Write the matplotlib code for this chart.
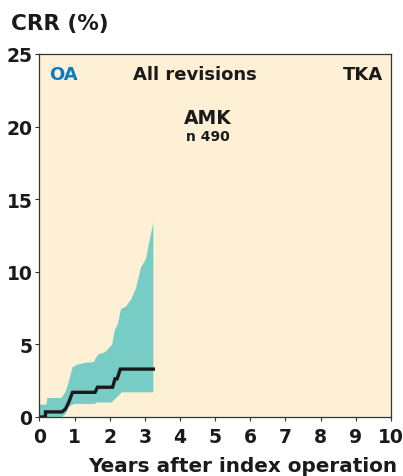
import numpy as np
import matplotlib
matplotlib.use("Agg")
import matplotlib.pyplot as plt

# Cumulative revision rate (%)
years_line = [0, 0.17, 0.17, 0.64, 0.74, 0.83, 0.94, 1.58, 1.65, 2.08, 2.15, 2.21, 2.30, 3.24]
crr_line = [0, 0, 0.35, 0.35, 0.55, 1.0, 1.7, 1.7, 2.05, 2.05, 2.63, 2.63, 3.3, 3.3]

years_upper = [0, 0.20, 0.22, 0.62, 0.68, 0.74, 0.83, 0.94, 1.07, 1.30, 1.55, 1.60, 1.67,
               1.87, 1.96, 2.07, 2.14, 2.23, 2.32, 2.46, 2.61, 2.75, 2.89, 3.03, 3.12, 3.24]
crr_upper = [0.85, 0.85, 1.31, 1.31, 1.5, 1.73, 2.4, 3.43, 3.6, 3.73, 3.78, 4.05, 4.3,
             4.47, 4.7, 5.0, 5.95, 6.4, 7.44, 7.6, 8.1, 8.9, 10.3, 10.9, 12.0, 13.4]

years_lower = [0, 0.64, 0.74, 0.83, 0.92, 1.02, 1.58, 1.63, 2.05, 2.15, 2.25, 2.34, 3.24]
crr_lower = [0, 0, 0.2, 0.67, 0.83, 0.9, 0.9, 1.0, 1.0, 1.24, 1.47, 1.7, 1.7]

x_ticks = list(range(0, 11))
y_ticks = [0, 5, 10, 15, 20, 25]

plt.rcParams["font.family"] = "DejaVu Sans"
plt.rcParams["font.weight"] = "bold"

fig = plt.figure(figsize=(4.03, 4.77), dpi=100)
ax = fig.add_axes([0.098, 0.1237, 0.872, 0.761])

ax.set_facecolor("#FEF0D5")

# confidence band
band_x = np.r_[years_upper, years_lower[::-1]]
band_y = np.r_[crr_upper, crr_lower[::-1]]
ax.fill(band_x, band_y, color="#77CDC6", linewidth=0)

ax.plot(years_line, crr_line, color="#1a1a1a", linewidth=2.4,
        solid_joinstyle="miter")

ax.set_xlim(0, 10)
ax.set_ylim(0, 25)
ax.set_xticks(x_ticks)
ax.set_yticks(y_ticks)
ax.tick_params(direction="out", length=3, width=0.8, color="#333333",
               labelsize=13.5)
ax.tick_params(axis="x", pad=4)
ax.tick_params(axis="y", pad=2)
for lab in ax.get_xticklabels() + ax.get_yticklabels():
    lab.set_fontweight("bold")
    lab.set_color("#1a1a1a")

for sp in ax.spines.values():
    sp.set_color("#333333")
    sp.set_linewidth(0.9)

# text inside the panel
ax.text(0.27, 23.6, "OA", color="#0A7CC4", fontsize=13, fontweight="bold",
        ha="left", va="center")
ax.text(4.42, 23.6, "All revisions", color="#1a1a1a", fontsize=13,
        fontweight="bold", ha="center", va="center")
ax.text(9.77, 23.6, "TKA", color="#1a1a1a", fontsize=13, fontweight="bold",
        ha="right", va="center")
ax.text(4.79, 20.66, "AMK", color="#1a1a1a", fontsize=13.5, fontweight="bold",
        ha="center", va="center")
ax.text(4.79, 19.35, "n 490", color="#1a1a1a", fontsize=10, fontweight="bold",
        ha="center", va="center")

fig.text(0.027, 0.95, "CRR (%)", color="#1a1a1a", fontsize=15.5,
         fontweight="bold", ha="left", va="center")
fig.text(0.985, 0.023, "Years after index operation", color="#1a1a1a",
         fontsize=14.4, fontweight="bold", ha="right", va="center")

fig.savefig("out.png", dpi=100)
